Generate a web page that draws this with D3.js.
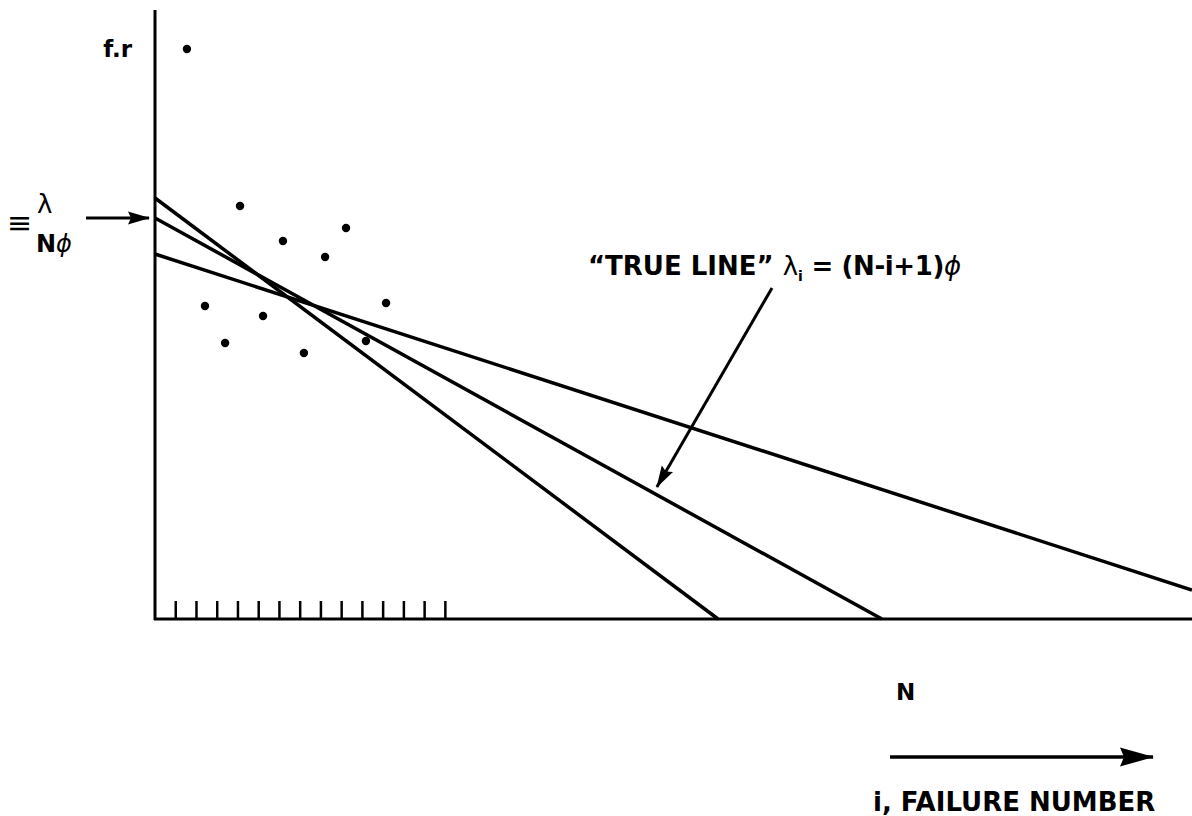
<!DOCTYPE html>
<html>
<head>
<meta charset="utf-8">
<script src="https://cdn.jsdelivr.net/npm/d3@7"></script>
<style>
  html, body { margin: 0; padding: 0; background: #fff; }
  svg { display: block; }
  text { font-family: "DejaVu Sans", sans-serif; fill: #000; }
</style>
</head>
<body>
<main></main>
<script>
const W = 1192, H = 816;

// failure number i (tick every unit) and failure-rate estimates (arbitrary units)
const failureIndex = [1.54, 2.41, 3.38, 4.10, 5.21, 6.17, 7.18, 8.20, 9.21, 10.17, 11.14];
const failureRate  = [57.0, 31.3, 27.6, 41.3, 30.3, 37.8, 26.6, 36.2, 39.1, 27.8, 31.6];
const tickNumbers  = d3.range(1, 15);

// three fitted lines: [start, end] in (i, rate)
const steepLine = [[0, 42.1], [27.15, 0]];
const trueLine  = [[0, 40.1], [35.05, 0]];
const flatLine  = [[0, 36.5], [50, 2.9]];

// "TRUE LINE" pointer: tail and tip in (i, rate)
const pointer = [[29.75, 33.1], [24.2, 13.2]];

const x = d3.scaleLinear().domain([0, 50]).range([155, 1192]);
const y = d3.scaleLinear().domain([0, 60]).range([619, 19]);

const svg = d3.select("main").append("svg")
  .attr("width", W).attr("height", H);

const defs = svg.append("defs");
// arrow heads drawn in user units so their size does not follow the stroke
defs.append("marker")
  .attr("id", "head")
  .attr("viewBox", "0 0 22 14")
  .attr("refX", 21).attr("refY", 7)
  .attr("markerWidth", 22).attr("markerHeight", 14)
  .attr("markerUnits", "userSpaceOnUse")
  .attr("orient", "auto")
  .append("path").attr("d", "M0,0.5 L22,7 L0,13.5 L3,7 Z").attr("fill", "#000");
defs.append("marker")
  .attr("id", "bighead")
  .attr("viewBox", "0 0 34 20")
  .attr("refX", 33).attr("refY", 10)
  .attr("markerWidth", 34).attr("markerHeight", 20)
  .attr("markerUnits", "userSpaceOnUse")
  .attr("orient", "auto")
  .append("path").attr("d", "M0,0.5 L34,10 L0,19.5 L4,10 Z").attr("fill", "#000");

// axes
svg.append("line")
  .attr("x1", x(0)).attr("x2", x(0))
  .attr("y1", y(0) + 1).attr("y2", y(60.9))
  .attr("stroke", "#000").attr("stroke-width", 3);
svg.append("line")
  .attr("x1", x(0) - 1).attr("x2", x(50))
  .attr("y1", y(0)).attr("y2", y(0))
  .attr("stroke", "#000").attr("stroke-width", 3);

svg.append("g").selectAll("line")
  .data(tickNumbers)
  .join("line")
  .attr("x1", d => x(d)).attr("x2", d => x(d))
  .attr("y1", y(0)).attr("y2", y(0) - 18)
  .attr("stroke", "#000").attr("stroke-width", 2.5);

// fitted lines
const line = d3.line().x(d => x(d[0])).y(d => y(d[1]));
svg.append("g").selectAll("path")
  .data([steepLine, trueLine, flatLine])
  .join("path")
  .attr("d", line)
  .attr("fill", "none")
  .attr("stroke", "#000")
  .attr("stroke-width", 3.5);

// data points
svg.append("g").selectAll("circle")
  .data(failureIndex)
  .join("circle")
  .attr("cx", d => x(d))
  .attr("cy", (d, i) => y(failureRate[i]))
  .attr("r", 4.2)
  .attr("fill", "#000");

// labels
svg.append("text")
  .attr("x", 132).attr("y", 57)
  .attr("text-anchor", "end")
  .attr("font-size", 23).attr("font-weight", "bold")
  .text("f.r");

svg.append("text")
  .attr("x", 7).attr("y", 233)
  .attr("font-size", 30)
  .text("≡");
svg.append("text")
  .attr("x", 37).attr("y", 213)
  .attr("font-size", 26)
  .text("λ");
svg.append("text")
  .attr("x", 36).attr("y", 252)
  .attr("font-size", 24).attr("font-weight", "bold")
  .text("N")
  .append("tspan")
  .attr("font-weight", "normal").attr("font-style", "italic")
  .text("ϕ");

svg.append("line")
  .attr("x1", 86).attr("x2", 149)
  .attr("y1", y(trueLine[0][1])).attr("y2", y(trueLine[0][1]))
  .attr("stroke", "#000").attr("stroke-width", 3)
  .attr("marker-end", "url(#head)");

const tl = svg.append("text")
  .attr("x", 588).attr("y", 275)
  .attr("font-size", 26).attr("font-weight", "bold");
tl.append("tspan").text("“TRUE LINE” ");
tl.append("tspan").attr("font-weight", "normal").text("λ");
tl.append("tspan").attr("font-size", 14).attr("dy", 6).text("i");
tl.append("tspan").attr("dy", -6).attr("letter-spacing", -0.4).text(" = (N-i+1)");
tl.append("tspan").attr("font-weight", "normal").attr("font-style", "italic").text("ϕ");

svg.append("line")
  .attr("x1", x(pointer[0][0])).attr("y1", y(pointer[0][1]))
  .attr("x2", x(pointer[1][0])).attr("y2", y(pointer[1][1]))
  .attr("stroke", "#000").attr("stroke-width", 3)
  .attr("marker-end", "url(#head)");

svg.append("text")
  .attr("x", 896).attr("y", 700)
  .attr("font-size", 23).attr("font-weight", "bold")
  .text("N");

svg.append("line")
  .attr("x1", 890).attr("x2", 1153)
  .attr("y1", 757).attr("y2", 757)
  .attr("stroke", "#000").attr("stroke-width", 3.5)
  .attr("marker-end", "url(#bighead)");

svg.append("text")
  .attr("x", 873).attr("y", 811)
  .attr("font-size", 26).attr("font-weight", "bold")
  .text("i, FAILURE NUMBER");
</script>
</body>
</html>
